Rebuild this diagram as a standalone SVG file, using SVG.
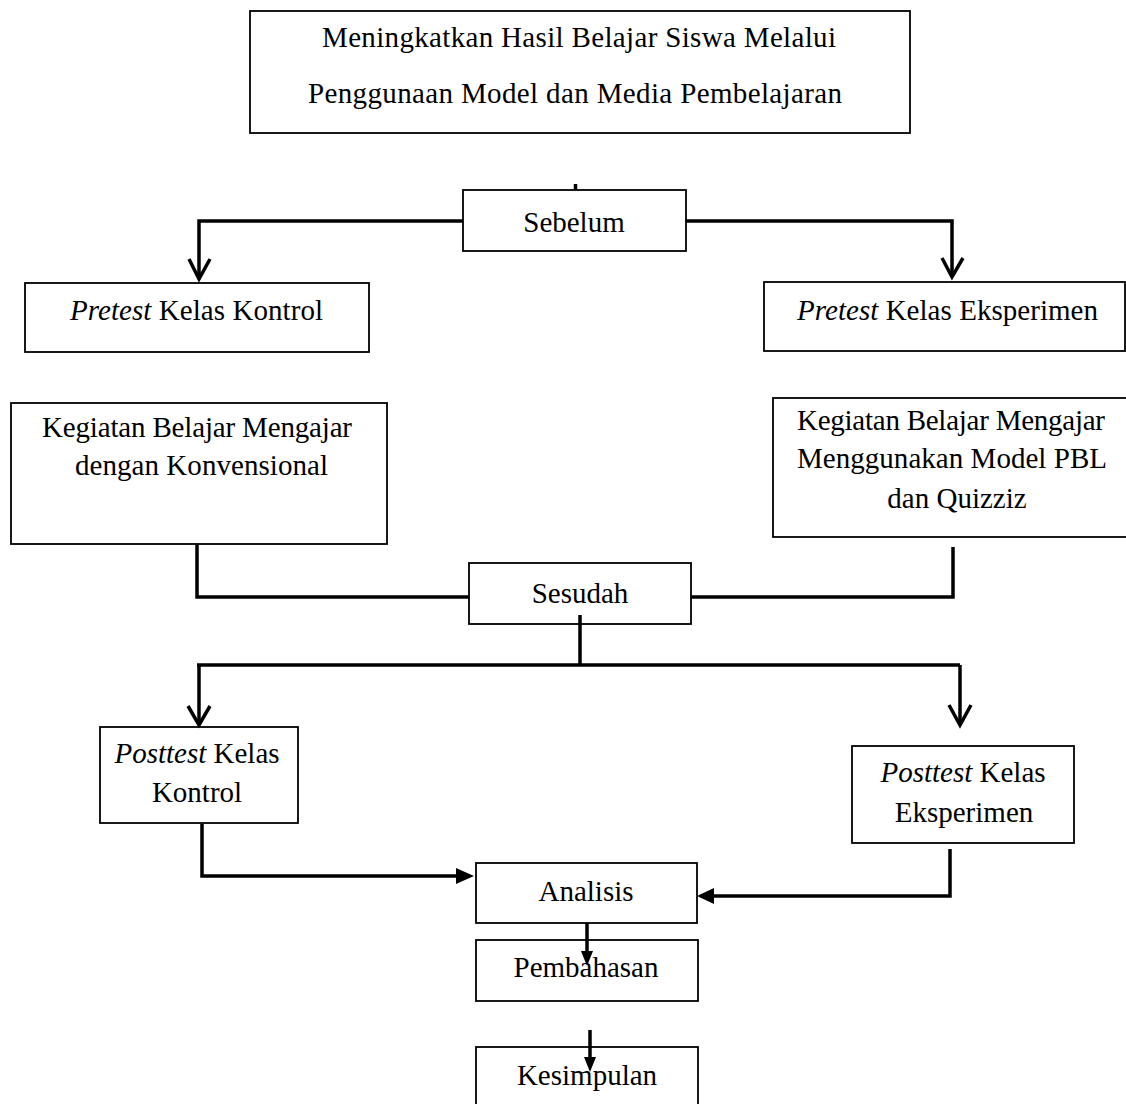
<svg xmlns="http://www.w3.org/2000/svg" width="1126" height="1104" viewBox="0 0 1126 1104">
<style>
.box{fill:#fff;stroke:#000;stroke-width:1.8}
.t{font-family:"Liberation Serif","Times New Roman",serif;font-size:29px;fill:#000;text-anchor:middle}
.i{font-style:italic}
.c{fill:none;stroke:#000;stroke-width:3.5;stroke-linejoin:miter}
.v{fill:none;stroke:#000;stroke-width:3.5;stroke-linejoin:miter;stroke-linecap:butt}
.f{fill:#000;stroke:none}
</style>
<rect width="1126" height="1104" fill="#fff"/>
<g id="title">
<rect class="box" x="250" y="11" width="660" height="122"/>
<text class="t" x="579" y="47" textLength="514">Meningkatkan Hasil Belajar Siswa Melalui</text>
<text class="t" x="575" y="103" textLength="534">Penggunaan Model dan Media Pembelajaran</text>
</g>
<g id="sebelum">
<rect class="box" x="463" y="190" width="223" height="61"/>
<text class="t" x="574" y="232">Sebelum</text>
</g>
<g id="pretest-kontrol">
<rect class="box" x="25" y="283" width="344" height="69"/>
<text class="t" x="196.5" y="320" textLength="253"><tspan class="i">Pretest</tspan> Kelas Kontrol</text>
</g>
<g id="pretest-eksperimen">
<rect class="box" x="764" y="282" width="361" height="69"/>
<text class="t" x="947.5" y="320" textLength="301"><tspan class="i">Pretest</tspan> Kelas Eksperimen</text>
</g>
<g id="kbm-konvensional">
<rect class="box" x="11" y="403" width="376" height="141"/>
<text class="t" x="197" y="437" textLength="310">Kegiatan Belajar Mengajar</text>
<text class="t" x="201.5" y="475" textLength="253">dengan Konvensional</text>
</g>
<g id="kbm-pbl">
<rect class="box" x="773" y="398" width="360" height="139"/>
<text class="t" x="951" y="430" textLength="308">Kegiatan Belajar Mengajar</text>
<text class="t" x="952" y="468" textLength="310">Menggunakan Model PBL</text>
<text class="t" x="957" y="508">dan Quizziz</text>
</g>
<g id="sesudah">
<rect class="box" x="469" y="563" width="222" height="61"/>
<text class="t" x="580" y="603">Sesudah</text>
</g>
<g id="posttest-kontrol">
<rect class="box" x="100" y="727" width="198" height="96"/>
<text class="t" x="197" y="763"><tspan class="i">Posttest</tspan> Kelas</text>
<text class="t" x="197" y="802">Kontrol</text>
</g>
<g id="posttest-eksperimen">
<rect class="box" x="852" y="746" width="222" height="97"/>
<text class="t" x="963" y="782"><tspan class="i">Posttest</tspan> Kelas</text>
<text class="t" x="964" y="822">Eksperimen</text>
</g>
<g id="analisis">
<rect class="box" x="476" y="863" width="221" height="60"/>
<text class="t" x="586" y="901">Analisis</text>
</g>
<g id="pembahasan">
<rect class="box" x="476" y="940" width="222" height="61"/>
<text class="t" x="586" y="977">Pembahasan</text>
</g>
<g id="kesimpulan">
<rect class="box" x="476" y="1047" width="222" height="70"/>
<text class="t" x="587" y="1085">Kesimpulan</text>
</g>
<g id="connectors">
<path class="c" d="M575.5,184 V190" stroke-width="2"/>
<path class="c" d="M463,221 H199 V278"/>
<path class="v" d="M189,259 L199,279 L210,259"/>
<path class="c" d="M686,221 H952 V276"/>
<path class="v" d="M942,258 L952,277 L963,258"/>
<path class="c" d="M197,544 V597 H469"/>
<path class="c" d="M953,547 V597 H691"/>
<path class="c" d="M580,615 V665"/>
<path class="c" d="M197,665 H960"/>
<path class="c" d="M199,665 V724"/>
<path class="v" d="M188,706 L199,725 L210,706"/>
<path class="c" d="M960,665 V724"/>
<path class="v" d="M949,705 L960,725 L971,705"/>
<path class="c" d="M202,824 V876 H458"/>
<polygon class="f" points="456,868 474,876 456,884"/>
<path class="c" d="M950,849 V896 H712"/>
<polygon class="f" points="714,888 697,896 714,904"/>
<path class="c" d="M587,923 V953"/>
<polygon class="f" points="581,951 587,966 593,951"/>
<path class="c" d="M590,1030 V1059"/>
<polygon class="f" points="584,1057 590,1072 596,1057"/>
</g>
</svg>
